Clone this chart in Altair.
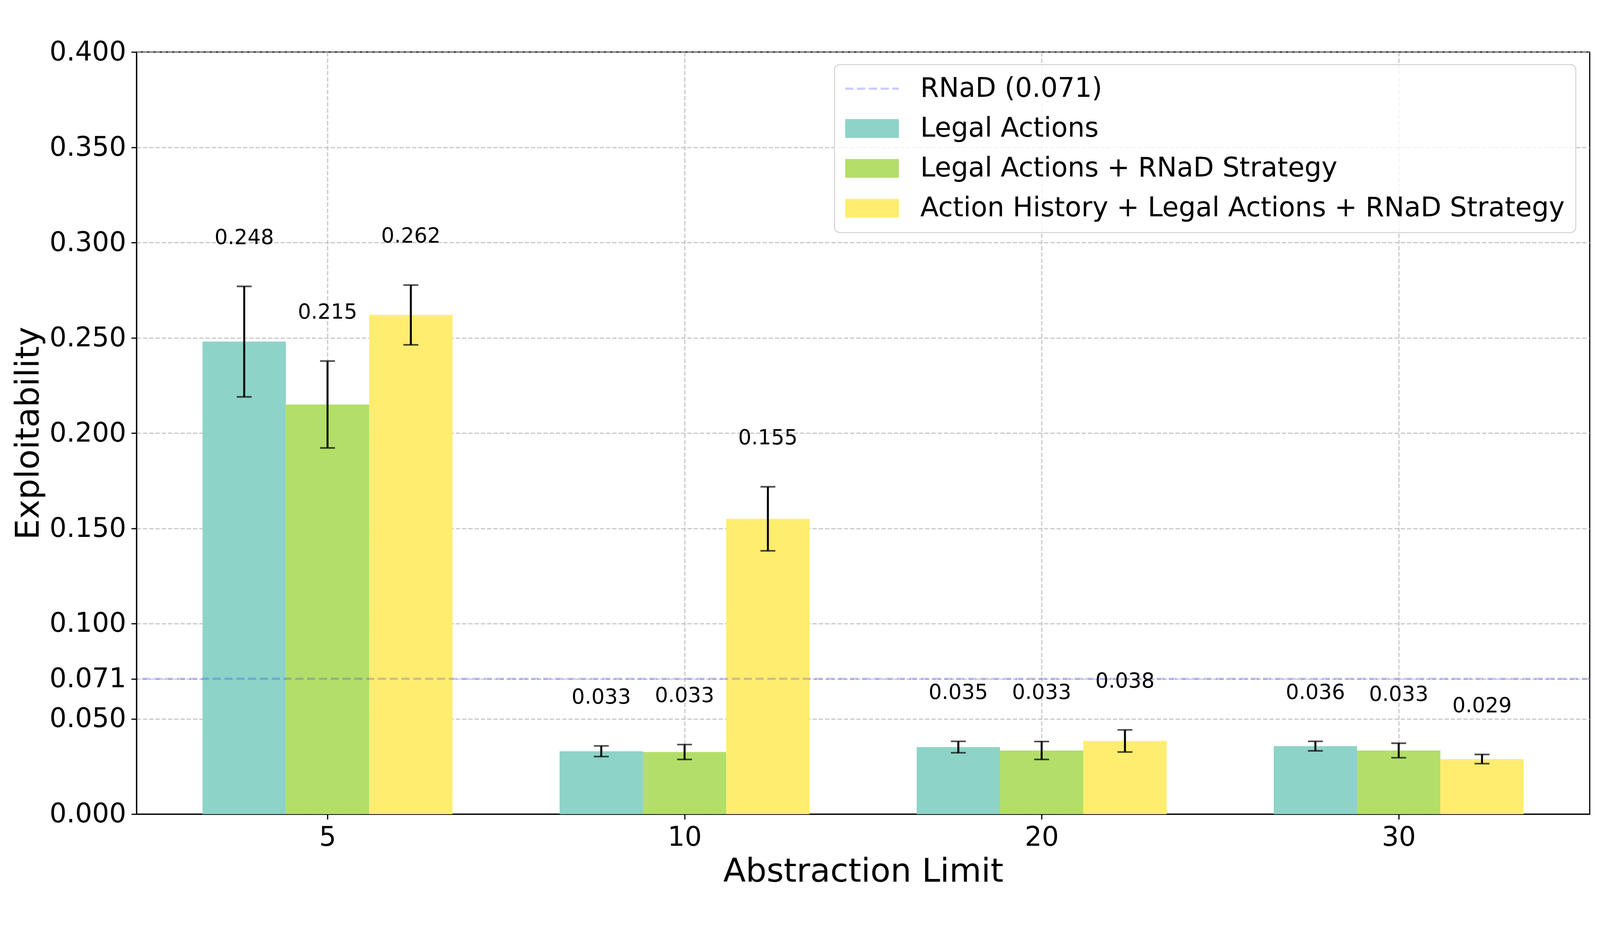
import json
import altair as alt
import pandas as pd

# ---- data ----
limits = ["5", "10", "20", "30"]
series = [
    "Legal Actions",
    "Legal Actions + RNaD Strategy",
    "Action History + Legal Actions + RNaD Strategy",
]
legal_mean = [0.248, 0.0330, 0.0352, 0.0357]
legal_err = [0.0290, 0.0028, 0.0030, 0.0025]
legal_rnad_mean = [0.215, 0.0326, 0.0334, 0.0334]
legal_rnad_err = [0.0228, 0.0039, 0.0047, 0.0038]
hist_mean = [0.262, 0.155, 0.0384, 0.0289]
hist_err = [0.0157, 0.0168, 0.0058, 0.0024]
rnad_value = 0.071
rnad_label = "RNaD (0.071)"
y_ticks = [0.0, 0.05, 0.071, 0.1, 0.15, 0.2, 0.25, 0.3, 0.35, 0.4]
colors = ["#ccccff", "#8dd3c7", "#b3de69", "#ffed6f"]
label_gap = 0.02  # value labels sit this far (data units) above the error bar

means = [legal_mean, legal_rnad_mean, hist_mean]
errs = [legal_err, legal_rnad_err, hist_err]
W = 0.7 / 3

rows = []
for si, s in enumerate(series):
    for gi, lim in enumerate(limits):
        m = means[si][gi]
        e = errs[si][gi]
        xc = gi + (si - 1) * W
        rows.append(dict(series=s, limit=lim, mean=m, lo=m - e, hi=m + e,
                         xc=xc, x0=xc - W / 2, x1=xc + W / 2))
df = pd.DataFrame(rows)
rnad_df = pd.DataFrame({"y": [rnad_value]})

FONT = "DejaVu Sans"

xscale = alt.Scale(domain=[-0.535, 3.535], nice=False, zero=False)
yscale = alt.Scale(domain=[0, 0.4], nice=False)

rect_path = "M-2,-0.7H2V0.7H-2Z"
dash_path = ("M-2,-0.083H-1.387V0.083H-2Z M-1.12,-0.083H-0.507V0.083H-1.12Z "
             "M-0.24,-0.083H0.373V0.083H-0.24Z M0.64,-0.083H1.253V0.083H0.64Z "
             "M1.52,-0.083H2V0.083H1.52Z")
sym_expr = f"datum.value === '{rnad_label}' ? '{dash_path}' : '{rect_path}'"

base = alt.Chart(df)

bars = base.mark_bar().encode(
    x=alt.X("x0:Q", scale=xscale,
            axis=alt.Axis(values=[0, 1, 2, 3], title="Abstraction Limit",
                          labelExpr=f"{json.dumps(limits)}[datum.value]",
                          titlePadding=12)),
    x2="x1:Q",
    y=alt.Y("mean:Q", scale=yscale,
            axis=alt.Axis(values=y_ticks, format=".3f", title="Exploitability",
                          titleX=-255, titleBaseline="bottom")),
    y2=alt.datum(0),
    color=alt.Color("series:N",
                    scale=alt.Scale(domain=[rnad_label] + series, range=colors),
                    legend=alt.Legend(
                        title=None, orient="none", legendX=1952, legendY=35,
                        symbolType=alt.ExprRef(sym_expr), symbolSize=5625,
                        symbolOffset=37.5, labelOffset=97.5, symbolStrokeWidth=0,
                        rowPadding=35.5, padding=30, labelFontSize=75,
                        labelLimit=4000, zindex=2)),
)

rnad = alt.Chart(rnad_df).mark_rule(
    color="blue", opacity=0.2, strokeWidth=6.25, strokeDash=[23, 10]
).encode(y=alt.Y("y:Q", scale=yscale))

err_rules = base.mark_rule(color="black", strokeWidth=5.5).encode(
    x=alt.X("xc:Q", scale=xscale), y=alt.Y("lo:Q", scale=yscale), y2="hi:Q"
)

caps = base.transform_fold(["lo", "hi"], as_=["end", "val"]).mark_tick(
    orient="horizontal", size=41.7, thickness=4.5, color="black"
).encode(x=alt.X("xc:Q", scale=xscale), y=alt.Y("val:Q", scale=yscale))

labels = base.transform_calculate(
    ly=f"datum.hi + {label_gap}"
).mark_text(baseline="bottom", fontSize=58, font=FONT, color="black").encode(
    x=alt.X("xc:Q", scale=xscale), y=alt.Y("ly:Q", scale=yscale),
    text=alt.Text("mean:Q", format=".3f"),
)

chart = alt.layer(bars, rnad, err_rules, caps, labels).properties(
    width=4064, height=2132,
    autosize=alt.AutoSizeParams(type="none"),
    padding={"left": 373, "top": 28, "right": 20, "bottom": 195},
    background="white",
).configure(font=FONT).configure_view(
    stroke="black", strokeWidth=3.3, fill="white"
).configure_axis(
    labelFont=FONT, titleFont=FONT, labelFontSize=75, titleFontSize=92,
    titleFontWeight="normal", labelColor="black", titleColor="black",
    domainColor="black", domainWidth=3.3, tickColor="black", tickWidth=3.3,
    tickSize=14.6, labelPadding=14.6, labelLimit=2000, grid=True,
    gridColor="#b0b0b0", gridOpacity=0.7, gridDash=[12, 5.5], gridWidth=3.3,
    zindex=1,
).configure_legend(
    labelFont=FONT, labelColor="black", fillColor="rgba(255,255,255,0.8)",
    strokeColor="#d6d6d6", strokeWidth=3, cornerRadius=15,
)

chart.save("out.html", embed_options={"renderer": "svg", "actions": False})
